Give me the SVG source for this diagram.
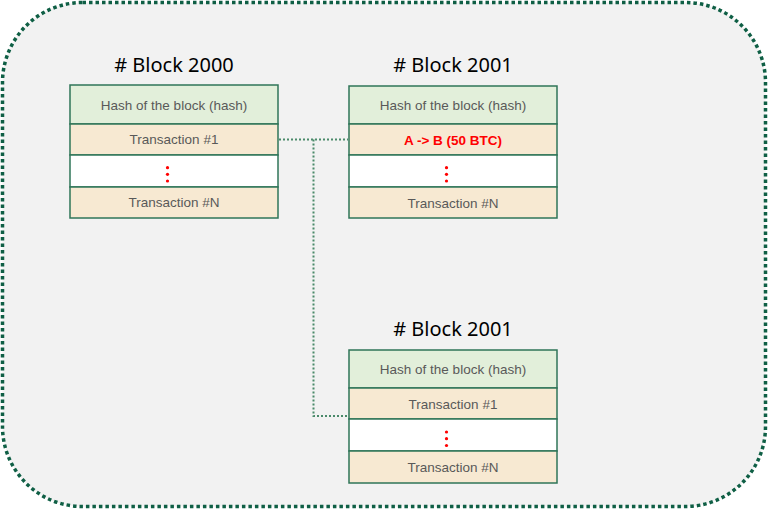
<svg xmlns="http://www.w3.org/2000/svg" width="768" height="509" viewBox="0 0 768 509">
<style>
.title{font-family:"Noto Sans","Liberation Sans",sans-serif;font-size:20px;fill:#000;text-anchor:middle}
.t{font-family:"Liberation Sans",Arial,sans-serif;font-size:13.5px;fill:#595959;text-anchor:middle}
.red{font-family:"Liberation Sans",Arial,sans-serif;font-size:13.5px;font-weight:bold;fill:#ff0000;text-anchor:middle}
.hash{fill:#e2efda;stroke:#2f7558;stroke-width:1.5}
.tx{fill:#f7e9d2;stroke:#2f7558;stroke-width:1.5}
.wh{fill:#ffffff;stroke:#2f7558;stroke-width:1.5}
.dot{fill:#ff0000}
.conn{fill:none;stroke:#4a8a6a;stroke-width:2;stroke-dasharray:2 2}
</style>
<rect x="2.5" y="2.5" width="763" height="504" rx="80" ry="80" fill="#f2f2f2" stroke="#0f5f45" stroke-width="3.5" stroke-dasharray="3.5 3"/>
<g id="block2000">
<text class="title" x="174" y="72">#  Block 2000</text>
<rect class="hash" x="70" y="85" width="208" height="39"/>
<rect class="tx" x="70" y="124" width="208" height="31"/>
<rect class="wh" x="70" y="155" width="208" height="32"/>
<rect class="tx" x="70" y="187" width="208" height="31"/>
<text class="t" x="174" y="110">Hash of the block (hash)</text>
<text class="t" x="174" y="144">Transaction #1</text>
<circle class="dot" cx="167.5" cy="167.7" r="1.6"/><circle class="dot" cx="167.5" cy="174.3" r="1.6"/><circle class="dot" cx="167.5" cy="181" r="1.6"/>
<text class="t" x="174" y="207">Transaction #N</text>
</g>
<g id="block2001a">
<text class="title" x="453" y="72">#  Block 2001</text>
<rect class="hash" x="349" y="86" width="208" height="38"/>
<rect class="tx" x="349" y="124" width="208" height="31"/>
<rect class="wh" x="349" y="155" width="208" height="32"/>
<rect class="tx" x="349" y="187" width="208" height="31"/>
<text class="t" x="453" y="110">Hash of the block (hash)</text>
<text class="red" x="453" y="145">A -&gt; B (50 BTC)</text>
<circle class="dot" cx="446.5" cy="167.7" r="1.6"/><circle class="dot" cx="446.5" cy="174.3" r="1.6"/><circle class="dot" cx="446.5" cy="181" r="1.6"/>
<text class="t" x="453" y="208">Transaction #N</text>
</g>
<g id="block2001b">
<text class="title" x="453" y="336">#  Block 2001</text>
<rect class="hash" x="349" y="350" width="208" height="38"/>
<rect class="tx" x="349" y="388" width="208" height="31"/>
<rect class="wh" x="349" y="419" width="208" height="32"/>
<rect class="tx" x="349" y="451" width="208" height="32"/>
<text class="t" x="453" y="374">Hash of the block (hash)</text>
<text class="t" x="453" y="409">Transaction #1</text>
<circle class="dot" cx="446.5" cy="432" r="1.6"/><circle class="dot" cx="446.5" cy="438.7" r="1.6"/><circle class="dot" cx="446.5" cy="445.5" r="1.6"/>
<text class="t" x="453" y="472">Transaction #N</text>
</g>
<g id="connectors">
<path class="conn" d="M279 139.5 H348"/>
<path class="conn" d="M313.5 139.5 V416 H348"/>
</g>
</svg>
